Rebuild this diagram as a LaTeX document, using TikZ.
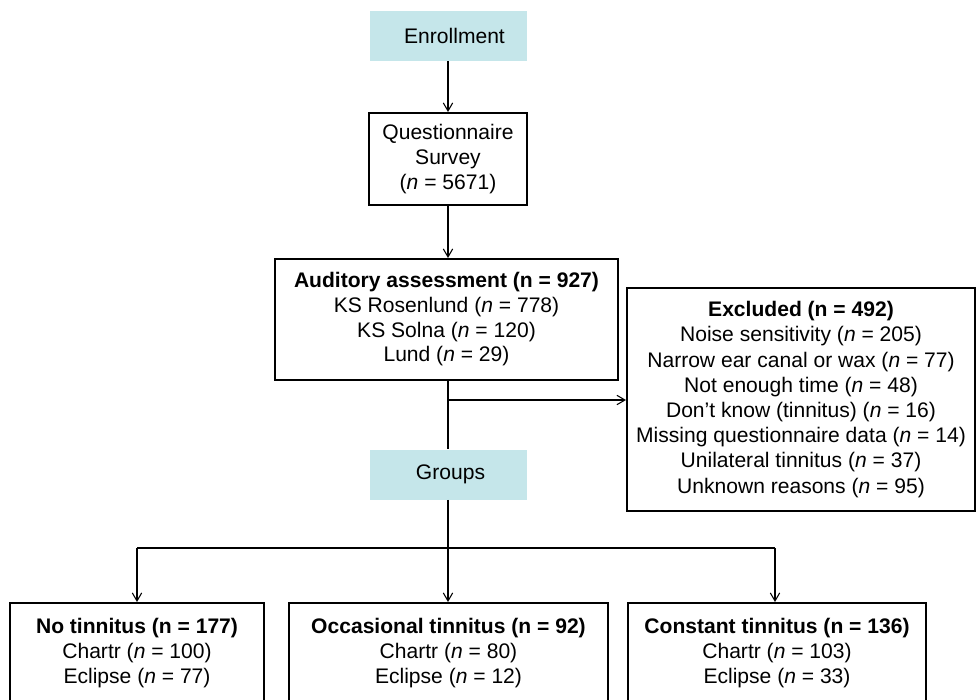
\documentclass[tikz,border=0pt]{standalone}
\usepackage{fontspec}
\setmainfont{Liberation Sans}
\usetikzlibrary{arrows.meta}
\definecolor{headfill}{RGB}{197,230,234}
\begin{document}
\begin{tikzpicture}[x=0.75pt,y=-0.75pt,
  every node/.style={font=\fontsize{15.8}{18.5}\selectfont, align=center, inner sep=0pt},
  head/.style={fill=headfill, minimum width=157*0.75pt, minimum height=50*0.75pt},
  box/.style={draw=black, line width=1.5pt},
  conn/.style={line width=0.8pt},
  arr/.style={conn, -{Straight Barb[length=6pt,width=7pt]}}]
\clip (0,0) rectangle (976,700);
\fill[white] (0,0) rectangle (976,700);

\node[head] (enr) at (448.5,36) {\hspace*{9pt}Enrollment};
\node[box, minimum width=158*0.75pt, minimum height=92*0.75pt] (quest) at (448,159)
  {Questionnaire\\Survey\\(\textit{n} = 5671)};
\node[box, minimum width=343*0.75pt, minimum height=121*0.75pt] (aud) at (446.5,319.5)
  {\textbf{Auditory assessment (n = 927)}\\KS Rosenlund (\textit{n} = 778)\\KS Solna (\textit{n} = 120)\\Lund (\textit{n} = 29)};
\node[box, minimum width=348*0.75pt, minimum height=223*0.75pt, font=\fontsize{15.8}{18.9}\selectfont] (excl) at (801,399.5)
  {\textbf{Excluded (n = 492)}\\Noise sensitivity (\textit{n} = 205)\\Narrow ear canal or wax (\textit{n} = 77)\\Not enough time (\textit{n} = 48)\\Don’t know (tinnitus) (\textit{n} = 16)\\Missing questionnaire data (\textit{n} = 14)\\Unilateral tinnitus (\textit{n} = 37)\\Unknown reasons (\textit{n} = 95)};
\node[head] (grp) at (448.5,474.5) {\hspace*{3pt}Groups};
\node[box, minimum width=254*0.75pt, minimum height=100*0.75pt] (g1) at (137,653)
  {\textbf{No tinnitus (n = 177)}\\Chartr (\textit{n} = 100)\\Eclipse (\textit{n} = 77)};
\node[box, minimum width=319*0.75pt, minimum height=100*0.75pt] (g2) at (448.5,653)
  {\textbf{Occasional tinnitus (n = 92)}\\Chartr (\textit{n} = 80)\\Eclipse (\textit{n} = 12)};
\node[box, minimum width=298*0.75pt, minimum height=100*0.75pt] (g3) at (777,653)
  {\textbf{Constant tinnitus (n = 136)}\\Chartr (\textit{n} = 103)\\Eclipse (\textit{n} = 33)};

\coordinate (j) at (448,400);
\coordinate (b) at (448,548);
\coordinate (bl) at (137,548);
\coordinate (br) at (775,548);

\draw[arr] (enr.south -| 448,0) -- (quest.north);
\draw[arr] (quest.south) -- (quest.south |- aud.north);
\draw[conn] (448,380) -- (grp.north -| 448,0);
\draw[arr] (j) -- (j -| excl.west);
\draw[conn] (grp.south -| 448,0) -- (b);
\draw[line width=1.5pt] (bl) -- (br);
\draw[arr] (bl) -- (bl |- g1.north);
\draw[arr] (b) -- (b |- g2.north);
\draw[arr] (br) -- (br |- g3.north);
\end{tikzpicture}
\end{document}
